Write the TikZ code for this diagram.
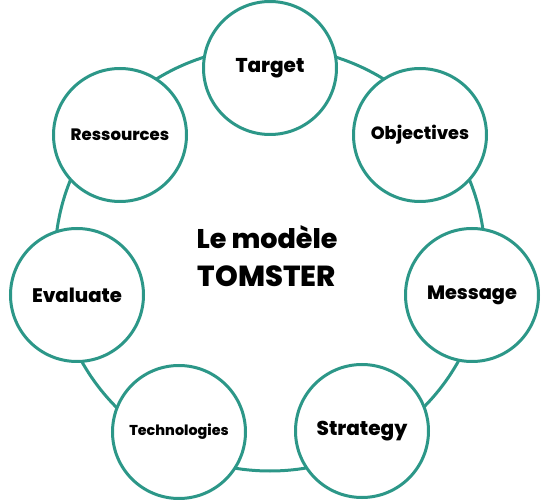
\documentclass[tikz,border=0pt]{standalone}
\usepackage{fontspec}
\setmainfont{Poppins}[BoldFont={Poppins ExtraBold}]
\definecolor{ringteal}{RGB}{44,151,136}

\begin{document}
\begin{tikzpicture}[x=1pt,y=-1pt,
    ring/.style={draw=ringteal,line width=3pt},
    bubble/.style={circle,draw=ringteal,line width=3pt,fill=white,
      minimum size=133pt,inner sep=0pt},
    word/.style={font=\bfseries\fontsize{#1}{#1}\selectfont}]

  \useasboundingbox (0,0) rectangle (550,500);

  % outer ring
  \coordinate (hub) at (270,259);
  \draw[ring] (hub) ellipse [x radius=215, y radius=212];

  % the seven steps
  \node[bubble,word=20] (target) at (270,68) {Target};
  \node[bubble,word=17.7] (objectives) at (420,135) {Objectives};
  \node[bubble,word=19.3] (message) at (472,295) {Message};
  \node[bubble,word=20] (strategy) at (362,431) {Strategy};
  \node[bubble,word=14.3] (technologies) at (179,432) {Technologies};
  \node[bubble,word=19.6] (evaluate) at (77,295) {Evaluate};
  \node[bubble,word=16.5] (ressources) at (120,135) {Ressources};

  \node[word=27,align=center] (title) at (267,256)
    {Le modèle\\[11pt]{\fontsize{29}{29}\selectfont TOMSTER}};
\end{tikzpicture}
\end{document}
